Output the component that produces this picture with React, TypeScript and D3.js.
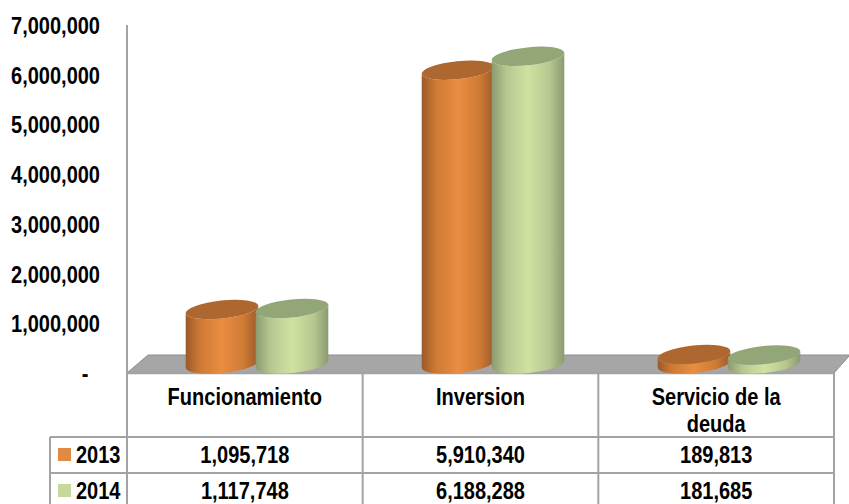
import React from 'react';
import * as d3 from 'd3';

const categories = ['Funcionamiento', 'Inversion', 'Servicio de la deuda'];
const categoryLines = [['Funcionamiento'], ['Inversion'], ['Servicio de la', 'deuda']];
const seriesNames = ['2013', '2014'];
const values2013 = [1095718, 5910340, 189813];
const values2014 = [1117748, 6188288, 181685];
const yTicks = [0, 1000000, 2000000, 3000000, 4000000, 5000000, 6000000, 7000000];

const width = 849;
const height = 504;
const plotLeft = 127;
const plotRight = 834;
const plotTop = 25;
const plotBottom = 373;
const depthX = 21;
const depthY = 18;
const barLift = 9;
const rx = 36.5;
const ry = 9;
const tilt = -6;
const rowTop = 437;
const rowMid = 473;
const legendLeft = 50;
const lineColor = '#a3a3a3';
const fontFamily = '"Liberation Sans", Arial, sans-serif';

const colors = ['#e08a42', '#c6d89c'];
const palette = [
  { id: 'orange', edge: '#9a5a2a', side: '#cf7a34', mid: '#e98d42', top: '#ad672f' },
  { id: 'green', edge: '#8b9b70', side: '#b6c790', mid: '#d0e2a1', top: '#93a678' },
];

const y = d3.scaleLinear().domain([0, 7000000]).range([plotBottom, plotTop]);
const xTable = d3.scaleBand<string>().domain(categories).range([plotLeft, plotRight]);
const xBars = d3.scaleBand<string>().domain(categories).range([plotLeft + 12, plotRight + 13]);
const xSeries = d3.scaleBand<string>().domain(seriesNames).range([0, 140]);
const fmt = (v: number) => (v === 0 ? '-' : d3.format(',')(v));

function cylinderBody(cx: number, top: number, bottom: number) {
  const rad = (tilt * Math.PI) / 180;
  const dx = rx * Math.cos(rad);
  const dy = rx * Math.sin(rad);
  return `M${cx - dx},${top - dy}L${cx - dx},${bottom - dy}`
    + `A${rx},${ry} ${tilt} 0 0 ${cx + dx},${bottom + dy}`
    + `L${cx + dx},${top + dy}A${rx},${ry} ${tilt} 0 1 ${cx - dx},${top - dy}Z`;
}

function Cylinder({ cat, series, value, index }: { cat: string; series: string; value: number; index: number }) {
  const cx = (xBars(cat) ?? 0) + (xBars.bandwidth() - 140) / 2 + (xSeries(series) ?? 0) + xSeries.bandwidth() / 2;
  const top = y(value) - barLift;
  const bottom = y(0) - barLift;
  const p = palette[index];
  return (
    <g>
      <path d={cylinderBody(cx, top, bottom)} fill={`url(#${p.id})`} />
      <ellipse cx={cx} cy={top} rx={rx} ry={ry} fill={p.top} transform={`rotate(${tilt} ${cx} ${top})`} />
    </g>
  );
}

// the source text is tall and condensed, so squeeze it sideways
function Label({ x, y: ty, anchor = 'middle', children }: { x: number; y: number; anchor?: string; children: React.ReactNode }) {
  return (
    <text transform={`translate(${x},${ty}) scale(0.87,1)`} textAnchor={anchor}
      style={{ fontFamily, fontWeight: 700, fontSize: 23, fill: '#000' }}>
      {children}
    </text>
  );
}

export default function App() {
  const floor = d3.line()([
    [plotLeft, plotBottom],
    [plotLeft + depthX, plotBottom - depthY],
    [plotRight + depthX - 5, plotBottom - depthY],
    [plotRight, plotBottom],
  ]) + 'Z';
  const rows = [values2013, values2014];
  const rowBaselines = [463, 499];

  return (
    <svg width={width} height={height} viewBox={`0 0 ${width} ${height}`}
      style={{ position: 'absolute', left: 0, top: 0, background: '#fff' }}>
      <defs>
        {palette.map((p) => (
          <linearGradient key={p.id} id={p.id} x1="0" x2="1" y1="0" y2="0">
            <stop offset="0" stopColor={p.edge} />
            <stop offset="0.2" stopColor={p.side} />
            <stop offset="0.5" stopColor={p.mid} />
            <stop offset="0.8" stopColor={p.side} />
            <stop offset="1" stopColor={p.edge} />
          </linearGradient>
        ))}
      </defs>

      <path d={floor} fill="#a6a6a6" stroke="#8f8f8f" strokeWidth={1} />
      <line x1={plotLeft} x2={plotLeft} y1={plotTop} y2={plotBottom} stroke={lineColor} strokeWidth={2} />
      <line x1={plotLeft} x2={plotRight} y1={plotBottom} y2={plotBottom} stroke={lineColor} strokeWidth={2.5} />

      {yTicks.map((t) => (
        <Label key={t} x={t === 0 ? 85 : 100} y={y(t) + 9} anchor={t === 0 ? 'middle' : 'end'}>
          {fmt(t)}
        </Label>
      ))}

      {categories.map((cat, i) => (
        <g key={cat}>
          <Cylinder cat={cat} series={seriesNames[0]} value={values2013[i]} index={0} />
          <Cylinder cat={cat} series={seriesNames[1]} value={values2014[i]} index={1} />
        </g>
      ))}

      {[plotLeft, ...categories.map((c) => (xTable(c) ?? 0) + xTable.bandwidth())].map((x) => (
        <line key={x} x1={x} x2={x} y1={plotBottom} y2={height} stroke={lineColor} strokeWidth={2} />
      ))}
      {[rowTop, rowMid].map((ly) => (
        <line key={ly} x1={legendLeft} x2={plotRight} y1={ly} y2={ly} stroke={lineColor} strokeWidth={2} />
      ))}
      <line x1={legendLeft} x2={legendLeft} y1={rowTop} y2={height} stroke={lineColor} strokeWidth={2} />

      {categories.map((cat, i) => categoryLines[i].map((line, j) => (
        <Label key={line} x={(xTable(cat) ?? 0) + xTable.bandwidth() / 2} y={405 + j * 27}>{line}</Label>
      )))}

      {seriesNames.map((name, r) => (
        <g key={name}>
          <rect x={58} y={rowBaselines[r] - 15} width={13} height={13} fill={colors[r]} />
          <Label x={76} y={rowBaselines[r]} anchor="start">{name}</Label>
          {categories.map((cat, i) => (
            <Label key={cat} x={(xTable(cat) ?? 0) + xTable.bandwidth() / 2} y={rowBaselines[r]}>
              {fmt(rows[r][i])}
            </Label>
          ))}
        </g>
      ))}
    </svg>
  );
}
